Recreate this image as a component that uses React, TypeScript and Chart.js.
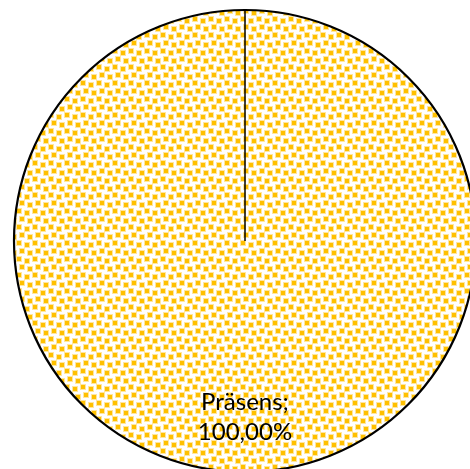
import React, { useEffect, useRef } from "react";
import { Chart, registerables } from "chart.js";

Chart.register(...registerables);

const categories: string[] = ["Präsens"];
const values: number[] = [100];
const sliceColors: string[] = ["#FFC000"];

function makePattern(color: string): CanvasPattern | string {
  const c = document.createElement("canvas");
  c.width = 16;
  c.height = 16;
  const ctx = c.getContext("2d");
  if (!ctx) return color;
  ctx.fillStyle = "#ffffff";
  ctx.fillRect(0, 0, 16, 16);
  const spots: [number, number][] = [
    [1, 1],
    [9, 3],
    [4, 9],
    [12, 11],
  ];
  for (const [x, y] of spots) {
    for (const dx of [-16, 0, 16]) {
      for (const dy of [-16, 0, 16]) {
        ctx.fillStyle = "rgba(255,200,40,0.45)";
        ctx.fillRect(x + dx - 1, y + dy - 1, 6, 6);
        ctx.fillStyle = color;
        ctx.fillRect(x + dx, y + dy, 4, 4);
      }
    }
  }
  const p = ctx.createPattern(c, "repeat");
  return p || color;
}

const decorPlugin = {
  id: "decor",
  afterDatasetsDraw(chart: any) {
    const meta = chart.getDatasetMeta(0);
    const arc = meta.data[0];
    if (!arc) return;
    const { x, y, outerRadius } = arc.getProps(["x", "y", "outerRadius"], true);
    const ctx = chart.ctx;
    ctx.save();
    ctx.strokeStyle = "#000000";
    ctx.lineWidth = 2.2;
    ctx.beginPath();
    ctx.arc(x, y, outerRadius, 0, Math.PI * 2);
    ctx.stroke();
    ctx.lineWidth = 1.5;
    ctx.beginPath();
    ctx.moveTo(x, y);
    ctx.lineTo(x, y - outerRadius);
    ctx.stroke();
    const total = values.reduce((a, b) => a + b, 0);
    const pct = ((values[0] / total) * 100).toFixed(2).replace(".", ",") + "%";
    ctx.fillStyle = "#000000";
    ctx.font = "24px Lato, 'Open Sans', sans-serif";
    ctx.textAlign = "center";
    ctx.textBaseline = "middle";
    const ly = y + outerRadius * 0.762;
    ctx.fillText(categories[0] + ";", x, ly - 15);
    ctx.fillText(pct, x, ly + 15);
    ctx.restore();
  },
};

export default function App() {
  const ref = useRef<HTMLCanvasElement | null>(null);
  useEffect(() => {
    if (!ref.current) return;
    const chart = new Chart(ref.current, {
      type: "pie",
      data: {
        labels: categories,
        datasets: [
          {
            data: values,
            backgroundColor: sliceColors.map((c) => makePattern(c)) as any,
            borderWidth: 0,
            hoverOffset: 0,
          },
        ],
      },
      options: {
        animation: false,
        responsive: true,
        maintainAspectRatio: false,
        layout: { padding: 10 },
        plugins: {
          legend: { display: false },
          tooltip: { enabled: false },
        },
      },
      plugins: [decorPlugin],
    });
    return () => chart.destroy();
  }, []);
  return (
    <div
      style={{
        position: "fixed",
        left: 0,
        top: 0,
        width: 470,
        height: 469,
        overflow: "hidden",
        background: "#ffffff",
      }}
    >
      <div style={{ position: "absolute", left: 0, top: 0, width: 490, height: 482 }}>
        <canvas ref={ref} />
      </div>
    </div>
  );
}
